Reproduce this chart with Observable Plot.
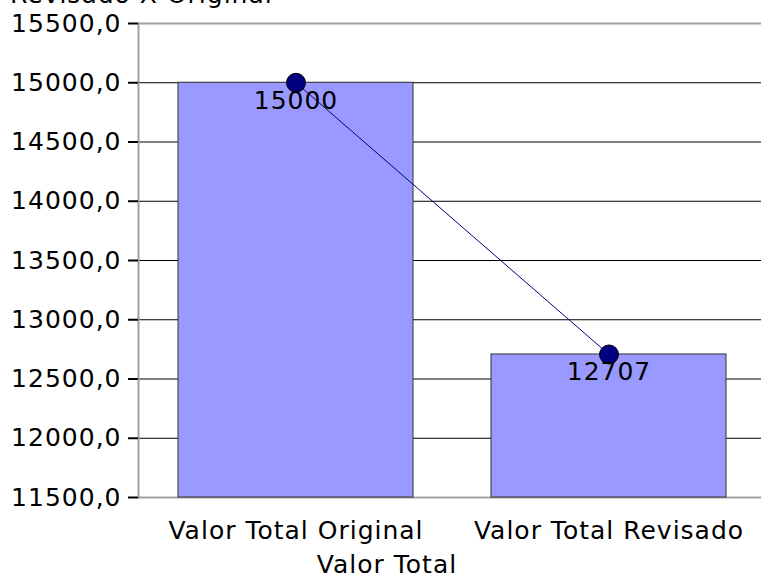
<!DOCTYPE html>
<html>
<head>
<meta charset="utf-8">
<script src="https://cdn.jsdelivr.net/npm/d3@7"></script>
<script src="https://cdn.jsdelivr.net/npm/@observablehq/plot@0.6"></script>
<style>
  html, body { margin: 0; padding: 0; background: #fff; overflow: hidden; }
  #wrap { position: relative; width: 761px; height: 574px; font-family: "DejaVu Sans", Verdana, sans-serif; }
  #title { position: absolute; left: 10px; top: -18px; font-size: 25px; letter-spacing: 1px; color: #000; white-space: nowrap; line-height: 1; }
  #xlabel { position: absolute; left: 387px; top: 552px; transform: translateX(-50%); font-size: 25px; letter-spacing: 1px; color: #000; white-space: nowrap; line-height: 1; }
  svg text { letter-spacing: 1px; }
</style>
</head>
<body>
<div id="wrap">
  <div id="chart"></div>
  <div id="title">Revisado X Original</div>
  <div id="xlabel">Valor Total</div>
</div>
<script>
const categories = ["Valor Total Original", "Valor Total Revisado"];
const values = [15000, 12707];
const yTicks = [11500, 12000, 12500, 13000, 13500, 14000, 14500, 15000, 15500];
const gridTicks = [12000, 12500, 13000, 13500, 14000, 14500, 15000];

const data = categories.map((c, i) => ({cat: c, value: values[i]}));
const fmt = d => d.toFixed(1).replace(".", ",");

const chart = Plot.plot({
  width: 761,
  height: 574,
  marginLeft: 138,
  marginRight: 0,
  marginTop: 23,
  marginBottom: 77,
  style: {fontFamily: "DejaVu Sans, Verdana, sans-serif", fontSize: "25px", color: "#000", background: "#fff"},
  x: {type: "band", domain: categories, range: [138, 765], paddingInner: 0.25, paddingOuter: 0.125},
  y: {domain: [11500, 15500]},
  marks: [
    Plot.gridY(gridTicks, {stroke: "#000", strokeOpacity: 1, strokeWidth: 1}),
    Plot.ruleY([15500, 11500], {stroke: "#a0a0a0", strokeWidth: 2}),
    Plot.frame({anchor: "left", stroke: "#a0a0a0", strokeWidth: 2}),
    Plot.barY(data, {x: "cat", y1: 11500, y2: "value", fill: "#9999ff", stroke: "#333", strokeWidth: 1}),
    Plot.line(data, {x: "cat", y: "value", stroke: "#000080", strokeWidth: 1}),
    Plot.dot(data, {x: "cat", y: "value", r: 9.5, fill: "#000080", stroke: "#000", strokeWidth: 1}),
    Plot.text(data, {x: "cat", y: "value", text: d => String(d.value), dy: 18, fill: "#000", fontSize: 25}),
    Plot.axisY(yTicks, {tickFormat: fmt, tickSize: 10, tickPadding: 7, stroke: "#000", strokeWidth: 2, fontSize: 25, label: null}),
    Plot.axisX({tickSize: 0, tickPadding: 24, fontSize: 25, label: null})
  ]
});
document.getElementById("chart").appendChild(chart);
</script>
</body>
</html>
